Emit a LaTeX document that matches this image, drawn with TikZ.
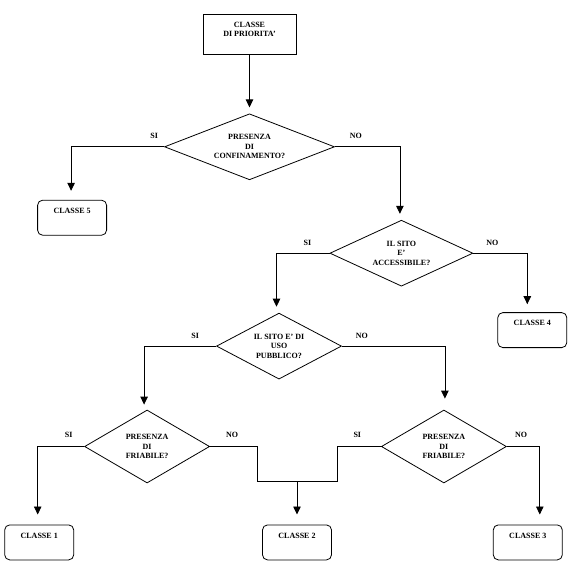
\documentclass[tikz,border=0pt]{standalone}
\usepackage{fontspec}
\setmainfont{Liberation Serif}
\usepackage{tikz}
\usetikzlibrary{positioning}
\usetikzlibrary{shapes.geometric}
\usetikzlibrary{arrows.meta}

\begin{document}
\begin{tikzpicture}[x=1pt, y=-1pt, line width=0.8pt,
  every node/.style={font=\fontsize{8pt}{9.5pt}\selectfont\bfseries},
  decision/.style={draw, diamond, inner sep=0pt, align=center, minimum width=125pt, minimum height=73pt, shape aspect=1.7},
  classbox/.style={draw, rounded corners=5pt, minimum width=69pt, minimum height=35pt, text depth=14pt},
  flow/.style={-{Triangle[length=8pt,width=7.5pt]}}]
  \useasboundingbox (0,0) rectangle (585,587);

  \node[draw, align=center, minimum width=93pt, minimum height=40pt, text depth=9.5pt] (prio) at (249.5,34) {CLASSE\\DI PRIORITA'};
  \node[decision, minimum width=170pt, minimum height=66pt, shape aspect=2.58, below=59pt of prio] (conf) {PRESENZA\\DI\\CONFINAMENTO?};
  \node[classbox, below=53pt of conf.west, xshift=-92pt] (c5) {CLASSE 5};
  \node[decision, minimum width=143pt, minimum height=66pt, shape aspect=2.17, below=73pt of conf.east, xshift=66.5pt] (acc) {IL SITO\\E'\\ACCESSIBILE?};
  \node[classbox, below=59pt of acc.east, xshift=59pt] (c4) {CLASSE 4};
  \node[decision, minimum width=125pt, minimum height=66pt, shape aspect=1.9, below=59.5pt of acc.west, xshift=-50.5pt] (uso) {IL SITO E' DI\\USO\\PUBBLICO?};
  \node[decision, below=63.5pt of uso.west, xshift=-69pt] (fri1) {PRESENZA\\DI\\FRIABILE?};
  \node[decision, below=63.5pt of uso.east, xshift=102pt] (fri2) {PRESENZA\\DI\\FRIABILE?};
  \node[classbox, below=78pt of fri1.west, xshift=-45pt] (c1) {CLASSE 1};
  \node[classbox, below=78pt of fri1.east, xshift=87pt] (c2) {CLASSE 2};
  \node[classbox, below=78pt of fri2.east, xshift=21pt] (c3) {CLASSE 3};

  % risposte
  \node (si1) at ([shift={(-10,-11)}]conf.west) {SI};
  \node (no1) at ([shift={(21,-11)}]conf.east) {NO};
  \node (si2) at ([shift={(-22,-10.5)}]acc.west) {SI};
  \node (no2) at ([shift={(19,-10.5)}]acc.east) {NO};
  \node (si3) at ([shift={(-21,-10.5)}]uso.west) {SI};
  \node (no3) at ([shift={(20,-10.5)}]uso.east) {NO};
  \node (si4) at ([shift={(-15.5,-11.5)}]fri1.west) {SI};
  \node (no4) at ([shift={(22,-11.5)}]fri1.east) {NO};
  \node (si5) at ([shift={(-23.7,-11.8)}]fri2.west) {SI};
  \node (no5) at ([shift={(14.3,-11.8)}]fri2.east) {NO};

  \draw[flow, shorten >=6pt] (prio) -- (conf);
  \draw[flow, shorten >=9pt] (conf.west) -| ([xshift=-1pt]c5.north);
  \draw[flow, shorten >=6pt] (conf.east) -| ([xshift=-1.5pt]acc.north);
  \draw[flow, shorten >=8pt] (acc.east) -| ([xshift=-5pt]c4.north);
  \draw[flow, shorten >=6pt] (acc.west) -| ([xshift=-2.5pt]uso.north);
  \draw[flow, shorten >=5pt] (uso.west) -| ([xshift=-3pt]fri1.north);
  \draw[flow, shorten >=11pt] (uso.east) -| ([xshift=1pt]fri2.north);
  \draw[flow, shorten >=10pt] (fri1.west) -| ([xshift=-1.5pt]c1.north);
  \draw[flow, shorten >=10pt] (fri2.east) -| ([xshift=12pt]c3.north);

  \coordinate (merge) at ([yshift=-35pt]c2.north |- fri1.east);
  \draw (fri1.east) -| ([xshift=-40pt]merge) -- ([xshift=40pt]merge) |- (fri2.west);
  \draw[flow, shorten >=10pt] (merge) -- (c2.north);
\end{tikzpicture}
\end{document}
